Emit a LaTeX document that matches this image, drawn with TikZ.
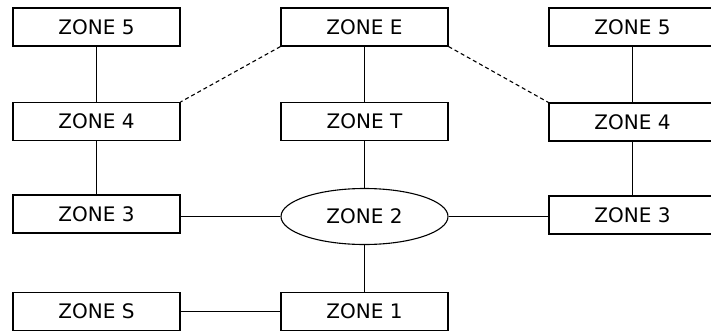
\documentclass[tikz,border=0pt]{standalone}
\usepackage{fontspec}
\setmainfont{DejaVu Sans}
\usetikzlibrary{shapes.geometric}
\begin{document}
\begin{tikzpicture}[x=1pt,y=-1pt,
  zonebox/.style={draw, line width=1.1pt, minimum width=167pt, minimum height=38pt,
    inner sep=0pt, font=\fontsize{20}{24}\selectfont},
  zoneoval/.style={draw, ellipse, line width=1.1pt, minimum width=167pt, minimum height=56pt,
    inner sep=0pt, font=\fontsize{20}{24}\selectfont},
  link/.style={line width=1.1pt},
  dashlink/.style={line width=1.1pt, dash pattern=on 4pt off 3pt}]
\useasboundingbox (0,0) rectangle (711,332);
\clip (0,0) rectangle (711,332);
% left column
\node[zonebox] (l5) at (96.5,27) {ZONE 5};
\node[zonebox] (l4) at (96.5,121.5) {ZONE 4};
\node[zonebox] (l3) at (96.5,214) {ZONE 3};
\node[zonebox] (s)  at (96.5,311.5) {ZONE S};
% middle column
\node[zonebox] (e)  at (364.5,27) {ZONE E};
\node[zonebox] (t)  at (364.5,121.5) {ZONE T};
\node[zoneoval] (z2) at (364.5,216.5) {ZONE 2};
\node[zonebox] (z1) at (364.5,311.5) {ZONE 1};
% right column
\node[zonebox] (r5) at (632.5,27) {ZONE 5};
\node[zonebox] (r4) at (632.5,122) {ZONE 4};
\node[zonebox] (r3) at (632.5,215) {ZONE 3};
% connectors
\draw[link] (l5) -- (l4);
\draw[link] (l4) -- (l3);
\draw[link] (e) -- (t);
\draw[link] (t) -- (z2);
\draw[link] (z2) -- (z1);
\draw[link] (r5) -- (r4);
\draw[link] (r4) -- (r3);
\draw[link] (z2.west) -- (z2.west -| l3.east);
\draw[link] (z2.east) -- (z2.east -| r3.west);
\draw[link] (s) -- (z1);
\draw[dashlink] (e.south west) -- (l4.north east);
\draw[dashlink] (e.south east) -- (r4.north west);
\end{tikzpicture}
\end{document}
